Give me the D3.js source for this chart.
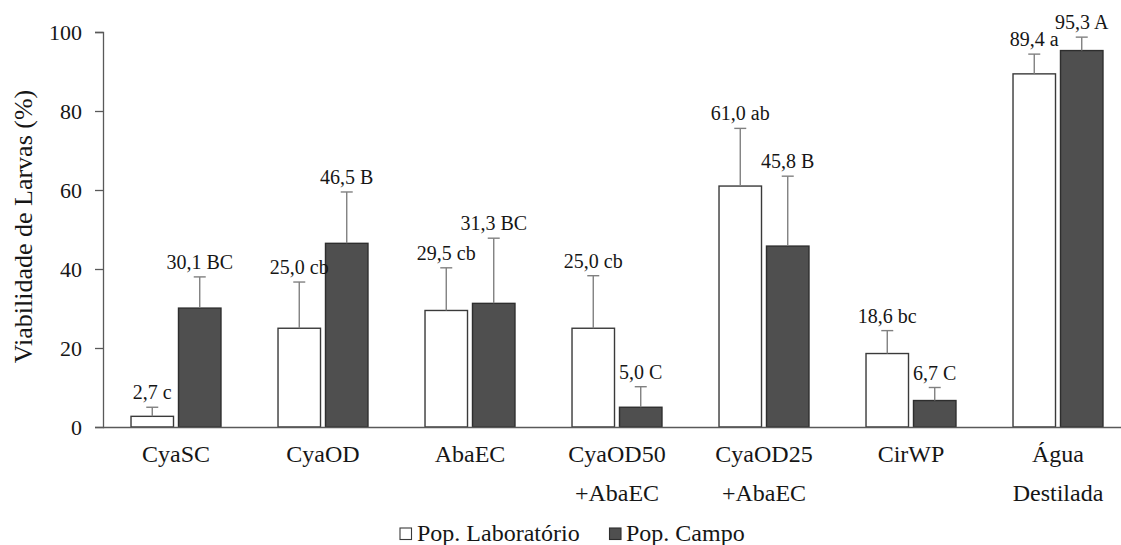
<!DOCTYPE html>
<html>
<head>
<meta charset="utf-8">
<script src="https://cdn.jsdelivr.net/npm/d3@7/dist/d3.min.js"></script>
<style>
  html, body { margin: 0; padding: 0; background: #fff; }
  svg { display: block; overflow: hidden; }
</style>
</head>
<body>
<script>
const categories = ["CyaSC", "CyaOD", "AbaEC", "CyaOD50\n+AbaEC", "CyaOD25\n+AbaEC", "CirWP", "Água\nDestilada"];
const seriesNames = ["Pop. Laboratório", "Pop. Campo"];
const labValues = [2.7, 25.0, 29.5, 25.0, 61.0, 18.6, 89.4];
const labErrors = [2.3, 11.7, 10.8, 13.3, 14.6, 5.8, 5.0];
const labLetters = ["c", "cb", "cb", "cb", "ab", "bc", "a"];
const fieldValues = [30.1, 46.5, 31.3, 5.0, 45.8, 6.7, 95.3];
const fieldErrors = [7.9, 13.0, 16.5, 5.2, 17.7, 3.3, 3.4];
const fieldLetters = ["BC", "B", "BC", "C", "B", "C", "A"];
const yTicks = [0, 20, 40, 60, 80, 100];
const yTitle = "Viabilidade de Larvas (%)";

const FONT = "'Liberation Serif', 'Times New Roman', Times, serif";
const W = 1121, H = 545;
const svg = d3.select("body").append("svg").attr("width", W).attr("height", H)
  .attr("font-family", FONT).style("font-family", FONT);

const fills = ["#ffffff", "#4f4f4f"];
const strokes = ["#3a3a3a", "#2e2e2e"];
const textColor = "#161616";

const y = d3.scaleLinear().domain([0, 100]).range([427, 32]);
const x0 = d3.scaleBand().domain(categories).range([102.5, 1131.5]).paddingInner(0.388).paddingOuter(0.194);
const x1 = d3.scaleBand().domain(seriesNames).range([0, x0.bandwidth()]).paddingInner(0.105);

const rows = [];
categories.forEach((c, i) => {
  rows.push({cat: c, s: seriesNames[0], si: 0, v: labValues[i], e: labErrors[i], l: labLetters[i]});
  rows.push({cat: c, s: seriesNames[1], si: 1, v: fieldValues[i], e: fieldErrors[i], l: fieldLetters[i]});
});

// Y axis
const yAxis = d3.axisLeft(y).tickValues(yTicks).tickSize(8).tickPadding(13).tickFormat(d3.format("d"));
const gy = svg.append("g").attr("transform", "translate(103,0)").call(yAxis)
  .attr("font-family", FONT).attr("font-size", 22);
gy.select(".domain").attr("stroke", "#595959").attr("stroke-width", 1.3);
gy.selectAll(".tick line").attr("stroke", "#595959").attr("stroke-width", 1.3);
gy.selectAll(".tick text").attr("fill", textColor).style("font-family", FONT).style("font-size", "22px");

// Bars
const xPos = d => x0(d.cat) + x1(d.s);
svg.append("g").selectAll("rect").data(rows).join("rect")
  .attr("x", d => xPos(d))
  .attr("y", d => y(d.v))
  .attr("width", x1.bandwidth())
  .attr("height", d => y(0) - y(d.v))
  .attr("fill", d => fills[d.si])
  .attr("stroke", d => strokes[d.si])
  .attr("stroke-width", 1.4);

// Error bars (upper only)
const eg = svg.append("g").attr("stroke", "#808080").attr("stroke-width", 1.4);
eg.selectAll("line.v").data(rows).join("line").attr("class", "v")
  .attr("x1", d => xPos(d) + x1.bandwidth() / 2).attr("x2", d => xPos(d) + x1.bandwidth() / 2)
  .attr("y1", d => y(d.v)).attr("y2", d => y(d.v + d.e));
eg.selectAll("line.c").data(rows).join("line").attr("class", "c")
  .attr("x1", d => xPos(d) + x1.bandwidth() / 2 - 6).attr("x2", d => xPos(d) + x1.bandwidth() / 2 + 6)
  .attr("y1", d => y(d.v + d.e)).attr("y2", d => y(d.v + d.e));

// Value labels
const fmt = v => d3.format(".1f")(v).replace(".", ",");
svg.append("g").selectAll("text").data(rows).join("text")
  .attr("x", d => xPos(d) + x1.bandwidth() / 2)
  .attr("y", d => y(d.v + d.e) - 8)
  .attr("text-anchor", "middle")
  .attr("font-size", 20)
  .attr("fill", textColor)
  .style("font-family", FONT)
  .text(d => fmt(d.v) + " " + d.l);

// X axis
const xAxis = d3.axisBottom(x0).tickSize(0).tickFormat("");
const gx = svg.append("g").attr("transform", "translate(0,427)").call(xAxis);
gx.select(".domain").attr("stroke", "#595959").attr("stroke-width", 1.3);

// Category labels
const cl = svg.append("g").selectAll("text").data(categories).join("text")
  .attr("text-anchor", "middle")
  .attr("font-size", 24)
  .attr("fill", textColor)
  .style("font-family", FONT)
  .attr("x", d => x0(d) + x0.bandwidth() / 2)
  .attr("y", 462);
cl.each(function(d) {
  const t = d3.select(this);
  d.split("\n").forEach((line, k) => {
    t.append("tspan").attr("x", x0(d) + x0.bandwidth() / 2).attr("y", 462 + k * 39).text(line);
  });
});

// Y title
svg.append("text")
  .attr("transform", "translate(32," + ((y(0) + y(100)) / 2 - 3) + ") rotate(-90)")
  .attr("text-anchor", "middle")
  .attr("font-size", 26)
  .attr("fill", textColor)
  .style("font-family", FONT)
  .text(yTitle);

// Legend
const legend = [
  {name: seriesNames[0], i: 0, bx: 400, tx: 417},
  {name: seriesNames[1], i: 1, bx: 609.5, tx: 626}
];
const lg = svg.append("g");
legend.forEach(l => {
  lg.append("rect").attr("x", l.bx).attr("y", 528).attr("width", 11.5).attr("height", 11.5)
    .attr("fill", fills[l.i]).attr("stroke", strokes[l.i]).attr("stroke-width", 1.1);
  lg.append("text").attr("x", l.tx).attr("y", 541).attr("font-size", 24)
    .attr("fill", textColor).style("font-family", FONT).text(l.name);
});
</script>
</body>
</html>
